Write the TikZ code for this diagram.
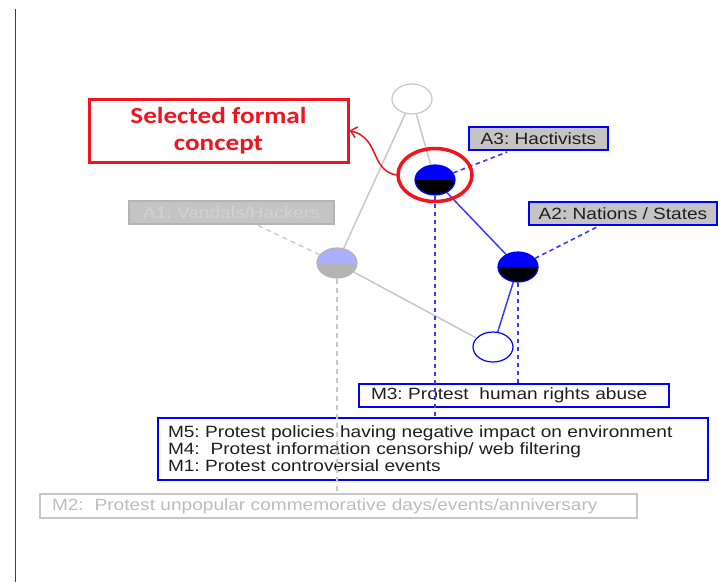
\documentclass[tikz,border=0pt]{standalone}
\usepackage{fontspec}
\setmainfont{Liberation Sans}
\newfontfamily\lblfont[FakeStretch=1.17]{Liberation Sans}
\newfontfamily\notefont[FakeStretch=1.18]{Carlito}
\usetikzlibrary{shapes.geometric,arrows.meta}
\frenchspacing

\definecolor{edgegray}{HTML}{C8C8C8}
\definecolor{conblue}{HTML}{0000FF}
\definecolor{lineblue}{HTML}{3A3AFF}
\definecolor{lblfill}{HTML}{C4C4C4}
\definecolor{alertred}{HTML}{F0141E}
\definecolor{mutedtext}{HTML}{BDBDBD}
\definecolor{a1text}{HTML}{D2D2D2}
\definecolor{lightblue}{HTML}{AAB0FF}
\definecolor{halfgray}{HTML}{B4B4B4}
\definecolor{darktext}{HTML}{1E1E1E}
\definecolor{railgray}{HTML}{404040}

\begin{document}
\begin{tikzpicture}[x=1pt,y=-1pt,
  concept/.style={ellipse, minimum width=40pt, minimum height=30pt, inner sep=0pt, line width=1.2pt},
  halfconcept/.style 2 args={concept, path picture={
      \fill[#1] (path picture bounding box.north west) rectangle (path picture bounding box.east);
      \fill[#2] (path picture bounding box.west) rectangle (path picture bounding box.south east);}},
  grayedge/.style={draw=edgegray, line width=1.5pt},
  blueedge/.style={draw=lineblue, line width=1.5pt},
  bluedash/.style={draw=lineblue, line width=1.6pt, dash pattern=on 4.5pt off 3.5pt},
  graydash/.style={draw=edgegray, line width=1.3pt, dash pattern=on 5pt off 4pt},
  txt/.style={font=\lblfont\fontsize{16.3}{17}\selectfont},
  lbl/.style={txt, draw=conblue, fill=lblfill, text=darktext, inner sep=0pt, line width=1.2pt, minimum height=23pt},
  mbox/.style={txt, draw=conblue, text=darktext, line width=1.2pt, inner xsep=10pt, inner ysep=0pt, align=left}
]
\useasboundingbox (0,0) rectangle (718,582);

% page rule on the left
\coordinate (railtop) at (15,9);
\coordinate (railbot) at (15,582);
\draw[railgray, line width=1pt] (railtop) -- (railbot);

% lattice nodes
\node[concept, draw=edgegray, fill=white] (top) at (412,99) {};
\node[halfconcept={conblue}{black}, draw=conblue] (hact) at (435,180) {};
\node[halfconcept={conblue}{black}, draw=conblue] (nat) at (518,267) {};
\node[halfconcept={lightblue}{halfgray}, draw=halfgray] (vand) at (337,263) {};
\node[concept, draw=conblue, fill=white] (low) at (493,347) {};

% lattice edges
\draw[grayedge] (top) -- (hact);
\draw[grayedge] (top) -- (vand);
\draw[grayedge] (vand) -- (low);
\draw[blueedge] (hact) -- (nat);
\draw[blueedge] (nat) -- (low);

% attribute labels
\node[lbl, minimum width=139pt] (la3) at (538.5,138.5) {A3: Hactivists};
\node[lbl, minimum width=188pt] (la2) at (623,213.5) {A2: Nations / States};
\node[lbl, draw=halfgray, text=a1text, minimum width=205pt] (la1) at (231.5,212.5) {A1: Vandals/Hackers};

\coordinate (a3end) at (507,152);
\coordinate (a2end) at (597,227);
\coordinate (a1end) at (257,225);
\draw[bluedash] (hact) -- (a3end);
\draw[bluedash] (nat) -- (a2end);
\draw[graydash] (vand) -- (a1end);

% object labels
\node[mbox, text width=530pt, minimum height=62pt] (m5) at (433,449)
  {M5: Protest policies having negative impact on environment\\
   M4:\ \ Protest information censorship/ web filtering\\
   M1: Protest controversial events};
\node[mbox, inner xsep=12pt, text width=286pt, minimum height=23pt] (m3) at (514,395.5)
  {M3: Protest\ \ human rights abuse};
\node[mbox, draw=edgegray, text=mutedtext, inner xsep=12pt, text width=573pt, minimum height=24pt] (m2) at (338.5,506)
  {M2:\ \ Protest unpopular commemorative days/events/anniversary};

\draw[bluedash] (hact.south) -- (hact.south |- m5.north);
\draw[bluedash] (nat.south) -- (nat.south |- m3.north);
\draw[graydash] (vand.south) -- (vand.south |- m2.north);

% highlighted concept and its note
\node[ellipse, draw=alertred, line width=3.5pt, minimum width=74pt, minimum height=53pt, inner sep=0pt] (sel) at (435,175) {};
\node[draw=alertred, line width=3pt, minimum width=259pt, minimum height=63pt, align=center, text=alertred,
      font=\notefont\bfseries\fontsize{23}{27}\selectfont] (note) at (218.5,130.5) {Selected formal\\concept};
\draw[alertred, line width=1.5pt, -{Straight Barb[length=6pt,width=11pt]}]
  (sel.west) .. controls (370,170) and (380,138) .. (note.east);
\end{tikzpicture}
\end{document}
